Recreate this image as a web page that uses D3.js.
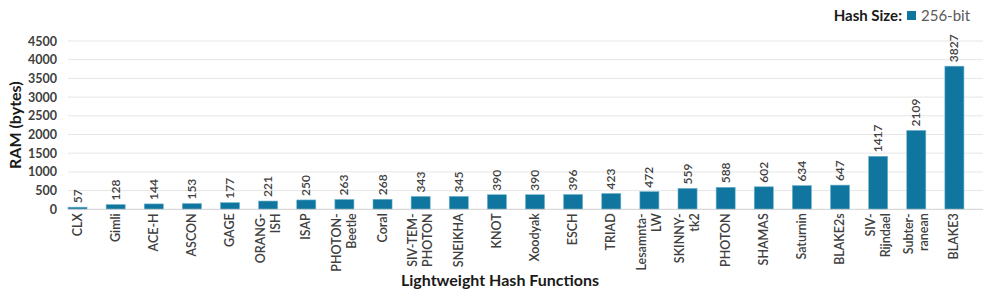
<!DOCTYPE html>
<html>
<head>
<meta charset="utf-8">
<script src="https://cdn.jsdelivr.net/npm/d3@7"></script>
<style>
  body { margin: 0; background: #fff; }
  svg text { font-family: Lato, "Open Sans", sans-serif; }
</style>
</head>
<body>
<div id="chart"></div>
<script>
(function() {
  var names = ['CLX', 'Gimli', 'ACE-H', 'ASCON', 'GAGE', 'ORANG-|ISH', 'ISAP', 'PHOTON-|Beetle',
    'Coral', 'SIV-TEM-|PHOTON', 'SNEIKHA', 'KNOT', 'Xoodyak', 'ESCH', 'TRIAD', 'Lesamnta-|LW',
    'SKINNY-|tk2', 'PHOTON', 'SHAMAS', 'Saturnin', 'BLAKE2s', 'SIV-|Rijndael', 'Subter-|ranean', 'BLAKE3'];
  var ram = [57, 128, 144, 153, 177, 221, 250, 263, 268, 343, 345, 390, 390, 396, 423, 472,
    559, 588, 602, 634, 647, 1417, 2109, 3827];
  var yTicks = [0, 500, 1000, 1500, 2000, 2500, 3000, 3500, 4000, 4500];
  var seriesName = '256-bit';

  var W = 997, H = 291;
  var left = 68, right = 983, top = 41, bottom = 209.3;
  var color = '#10769f';

  var svg = d3.select('#chart').append('svg').attr('width', W).attr('height', H);

  var x = d3.scaleBand().domain(names).range([left, right]).padding(0);
  var y = d3.scaleLinear().domain([0, 4500]).range([bottom, top]);
  var bw = x.bandwidth() / 2;

  // grid
  svg.append('g').selectAll('line').data(yTicks.slice(1)).enter().append('line')
    .attr('x1', left).attr('x2', right)
    .attr('y1', function(d) { return y(d); }).attr('y2', function(d) { return y(d); })
    .attr('stroke', '#e6e6e6').attr('stroke-width', 1);

  // y axis labels
  var yAxis = d3.axisLeft(y).tickValues(yTicks).tickFormat(d3.format('d')).tickSize(0).tickPadding(11);
  var yg = svg.append('g').attr('transform', 'translate(' + left + ',0)').call(yAxis);
  yg.select('.domain').remove();
  yg.selectAll('text').attr('font-size', 12.5).attr('font-weight', 700).attr('fill', '#404040')
    .style('font-family', 'Lato, sans-serif');

  // bars
  svg.append('g').selectAll('rect').data(ram).enter().append('rect')
    .attr('x', function(d, i) { return x(names[i]); })
    .attr('y', function(d) { return y(d); })
    .attr('width', bw)
    .attr('height', function(d) { return bottom - y(d); })
    .attr('fill', color).attr('stroke', '#6fb3cf').attr('stroke-width', 0.6);

  // baseline
  svg.append('line').attr('x1', left).attr('x2', right).attr('y1', bottom).attr('y2', bottom)
    .attr('stroke', '#d0d0d0').attr('stroke-width', 1);

  // value labels
  svg.append('g').selectAll('text').data(ram).enter().append('text')
    .attr('transform', function(d, i) {
      return 'translate(' + (x(names[i]) + bw / 2 + 4) + ',' + (y(d) - 4) + ') rotate(-90)';
    })
    .attr('font-size', 12).attr('fill', '#404040').attr('font-weight', 600)
    .text(function(d) { return d; });

  // category labels
  var cat = svg.append('g').selectAll('text').data(names).enter().append('text')
    .attr('transform', function(d) {
      return 'translate(' + (x(d) + bw / 2) + ',' + (bottom + 4) + ') rotate(-90)';
    })
    .attr('text-anchor', 'end').attr('font-size', 12.5).attr('font-weight', 600).attr('fill', '#404040');
  cat.each(function(d) {
    var parts = d.split('|');
    var t = d3.select(this);
    var off = parts.length === 1 ? 4 : -3.5;
    parts.forEach(function(p, k) {
      t.append('tspan').attr('x', 0).attr('y', off + k * 15).text(p);
    });
  });

  // axis titles
  svg.append('text').attr('transform', 'translate(21,' + ((top + bottom) / 2) + ') rotate(-90)')
    .attr('text-anchor', 'middle').attr('font-size', 16).attr('font-weight', 700).attr('fill', '#1a1a1a')
    .text('RAM (bytes)');
  svg.append('text').attr('x', 500).attr('y', 286)
    .attr('text-anchor', 'middle').attr('font-size', 16).attr('font-weight', 700).attr('fill', '#1a1a1a')
    .text('Lightweight Hash Functions');

  // legend
  var lg = svg.append('g');
  lg.append('text').attr('x', 902).attr('y', 21).attr('text-anchor', 'end')
    .attr('font-size', 15).attr('font-weight', 700).attr('fill', '#1a1a1a').text('Hash Size:');
  lg.append('rect').attr('x', 907).attr('y', 11).attr('width', 9).attr('height', 9).attr('fill', color);
  lg.append('text').attr('x', 921).attr('y', 21)
    .attr('font-size', 15).attr('fill', '#595959').text(seriesName);
}).call(this);
</script>
</body>
</html>
